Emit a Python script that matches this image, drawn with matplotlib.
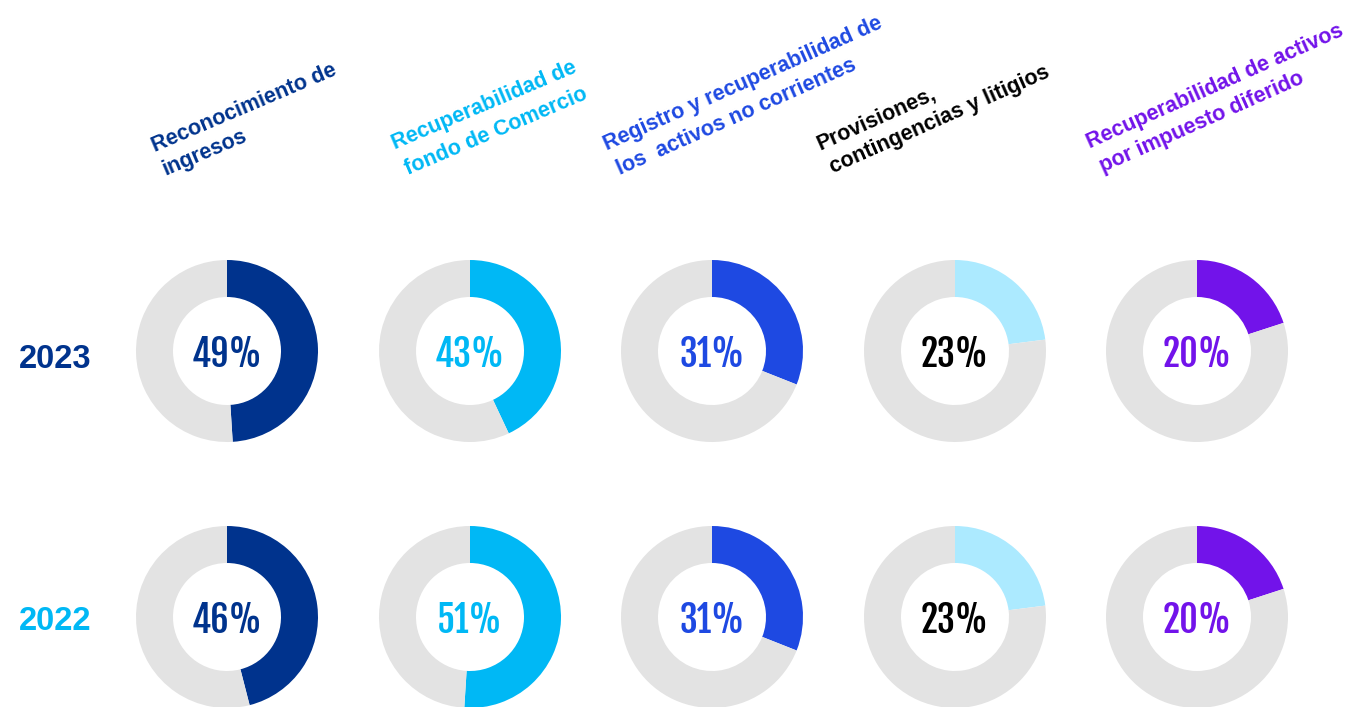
import matplotlib
matplotlib.use("Agg")
import matplotlib.pyplot as plt
from matplotlib import font_manager

W, H = 1364, 707

categories = [
    ["Reconocimiento de", "ingresos"],
    ["Recuperabilidad de", "fondo de Comercio"],
    ["Registro y recuperabilidad de", "los  activos no corrientes"],
    ["Provisiones,", "contingencias y litigios"],
    ["Recuperabilidad de activos", "por impuesto diferido"],
]
years = ["2023", "2022"]
values_2023 = [49, 43, 31, 23, 20]
values_2022 = [46, 51, 31, 23, 20]

ring_colors = ["#00338D", "#00B8F5", "#1E49E2", "#ACEAFF", "#7213EA"]
text_colors = ["#00338D", "#00B8F5", "#1E49E2", "#000000", "#7213EA"]
year_colors = ["#00338D", "#00B8F5"]
GREY = "#E3E3E3"

# layout in pixels (measured from the top-left corner)
COL_X = [227, 470, 712, 955, 1197]
ROW_Y = [351, 617]
R_OUT, R_IN = 91, 54
LABEL_POS = [
    [(155, 152), (166, 175), 23],
    [(395, 149), (408, 175), 23],
    [(607, 150), (620, 175), 24],
    [(820, 150), (833, 173), 24],
    [(1090, 148), (1103, 172), 24],
]


def narrow_font():
    # condensed bold face for the big percentages
    for name, size in [("Fjalla One", 26), ("Barlow Condensed", 31)]:
        try:
            font_manager.findfont(font_manager.FontProperties(family=name, weight="bold"),
                                  fallback_to_default=False)
            return dict(family=name, fontsize=size)
        except ValueError:
            pass
    return dict(family="DejaVu Sans", fontsize=28)


pct_font = narrow_font()

fig = plt.figure(figsize=(W / 100, H / 100), dpi=100)
ax = fig.add_axes([0, 0, 1, 1])

for row, values in enumerate([values_2023, values_2022]):
    cy = H - ROW_Y[row]
    for i, v in enumerate(values):
        cx = COL_X[i]
        ax.pie([v, 100 - v], colors=[ring_colors[i], GREY], startangle=90,
               counterclock=False, center=(cx, cy), radius=R_OUT,
               wedgeprops=dict(width=R_OUT - R_IN, linewidth=0))
        ax.text(cx, cy - 16, f"{v}%", ha="center", va="baseline",
                fontweight="bold", color=text_colors[i], **pct_font)
    ax.text(19, H - [368, 630][row], years[row], ha="left", va="baseline",
            fontsize=23.5, fontweight="bold", family="Liberation Sans",
            color=year_colors[row])

for i, lines in enumerate(categories):
    p1, p2, rot = LABEL_POS[i]
    for text, (x, y) in zip(lines, [p1, p2]):
        ax.text(x, H - y, text, ha="left", va="baseline", rotation=rot,
                rotation_mode="anchor", fontsize=15.5, fontweight="bold",
                family="Liberation Sans", color=text_colors[i])

ax.set_xlim(0, W)
ax.set_ylim(0, H)
ax.set_aspect("auto")
ax.axis("off")

fig.savefig("out.png", dpi=100)
